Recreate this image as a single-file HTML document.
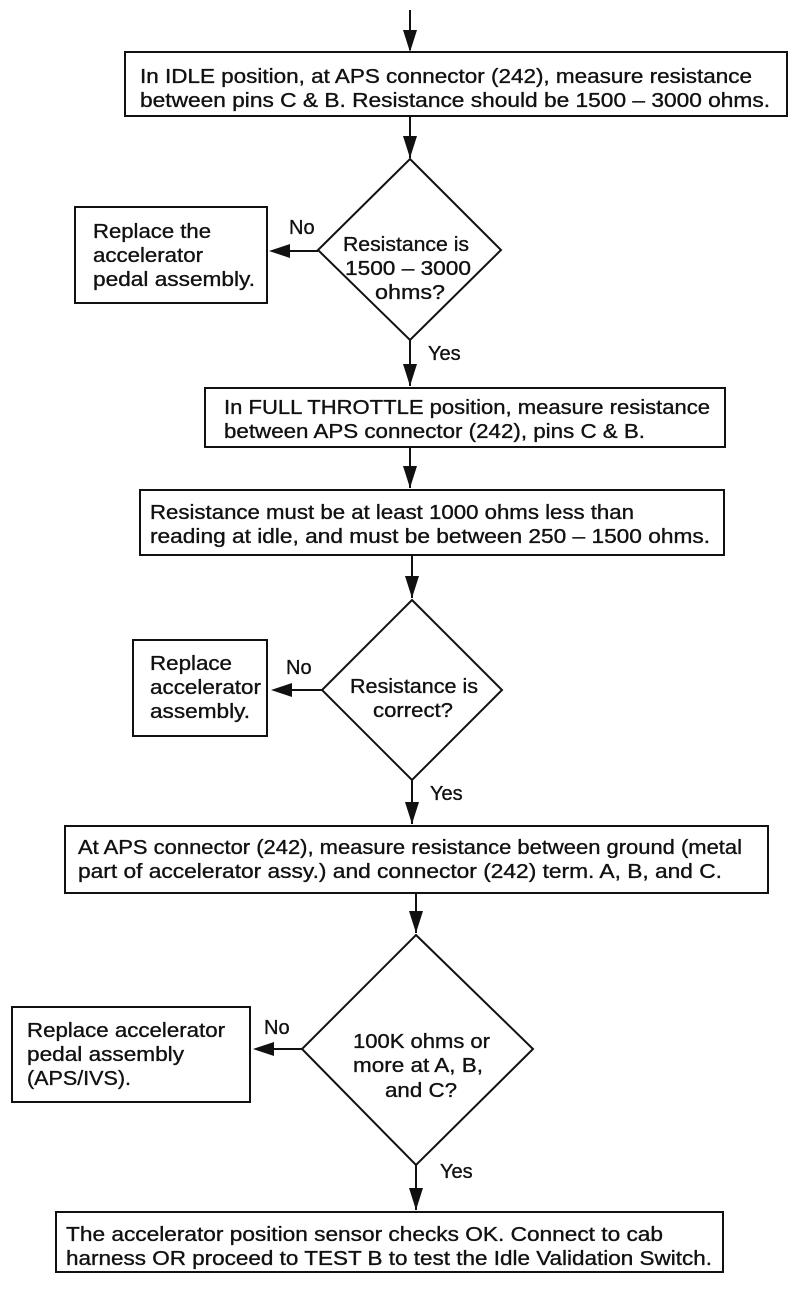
<!DOCTYPE html>
<html><head><meta charset="utf-8"><style>
html,body{margin:0;padding:0;background:#fff}
svg{display:block}
text{font-family:"Liberation Sans",Arial,sans-serif;font-size:20px;fill:#111;stroke:#111;stroke-width:0.35px}
</style></head><body>
<svg width="800" height="1296" viewBox="0 0 800 1296" xmlns="http://www.w3.org/2000/svg">
<g stroke="#111" stroke-width="2" fill="none">
<line x1="410" y1="10" x2="410" y2="50"/>
<path d="M403,30 L417,30 L410,52 Z" fill="#111" stroke="none"/>
<line x1="410" y1="116" x2="410" y2="158"/>
<path d="M403,136 L417,136 L410,158 Z" fill="#111" stroke="none"/>
<rect x="125" y="52" width="662" height="64"/>
<polygon points="410,159 501,250 410,340 318,250"/>
<rect x="75" y="207" width="192" height="96"/>
<line x1="318" y1="251" x2="282" y2="251"/>
<path d="M269,251 L290,244 L290,258 Z" fill="#111" stroke="none"/>
<line x1="410" y1="340" x2="410" y2="386"/>
<path d="M403,364 L417,364 L410,386 Z" fill="#111" stroke="none"/>
<rect x="205" y="388" width="520" height="59"/>
<line x1="410" y1="447" x2="410" y2="488"/>
<path d="M403,466 L417,466 L410,488 Z" fill="#111" stroke="none"/>
<rect x="140" y="490" width="584" height="65"/>
<line x1="412" y1="555" x2="412" y2="598"/>
<path d="M405,576 L419,576 L412,598 Z" fill="#111" stroke="none"/>
<polygon points="412,600 502,690 412,780 322,690"/>
<rect x="133" y="640" width="134" height="96"/>
<line x1="322" y1="690" x2="284" y2="690"/>
<path d="M271,690 L292,683 L292,697 Z" fill="#111" stroke="none"/>
<line x1="412" y1="780" x2="412" y2="824"/>
<path d="M405,802 L419,802 L412,824 Z" fill="#111" stroke="none"/>
<rect x="65" y="826" width="703" height="67"/>
<line x1="416" y1="893" x2="416" y2="933"/>
<path d="M409,911 L423,911 L416,933 Z" fill="#111" stroke="none"/>
<polygon points="416,935 533,1049 416,1165 302,1049"/>
<rect x="12" y="1007" width="238" height="95"/>
<line x1="302" y1="1049" x2="266" y2="1049"/>
<path d="M253,1049 L274,1042 L274,1056 Z" fill="#111" stroke="none"/>
<line x1="416" y1="1165" x2="416" y2="1210"/>
<path d="M409,1188 L423,1188 L416,1210 Z" fill="#111" stroke="none"/>
<rect x="56" y="1212" width="667" height="60"/>
</g>
<text x="140" y="83" textLength="612" lengthAdjust="spacingAndGlyphs">In IDLE position, at APS connector (242), measure resistance</text>
<text x="140" y="107" textLength="630" lengthAdjust="spacingAndGlyphs">between pins C &amp; B. Resistance should be 1500 – 3000 ohms.</text>
<text x="93" y="238" textLength="118" lengthAdjust="spacingAndGlyphs">Replace the</text>
<text x="93" y="262" textLength="110" lengthAdjust="spacingAndGlyphs">accelerator</text>
<text x="93" y="286" textLength="162" lengthAdjust="spacingAndGlyphs">pedal assembly.</text>
<text x="289" y="234">No</text>
<text x="343" y="251" textLength="126" lengthAdjust="spacingAndGlyphs">Resistance is</text>
<text x="345" y="275" textLength="126" lengthAdjust="spacingAndGlyphs">1500 – 3000</text>
<text x="375" y="299" textLength="70" lengthAdjust="spacingAndGlyphs">ohms?</text>
<text x="428" y="360">Yes</text>
<text x="224" y="414" textLength="486" lengthAdjust="spacingAndGlyphs">In FULL THROTTLE position, measure resistance</text>
<text x="224" y="438" textLength="421" lengthAdjust="spacingAndGlyphs">between APS connector (242), pins C &amp; B.</text>
<text x="150" y="519" textLength="484" lengthAdjust="spacingAndGlyphs">Resistance must be at least 1000 ohms less than</text>
<text x="150" y="543" textLength="560" lengthAdjust="spacingAndGlyphs">reading at idle, and must be between 250 – 1500 ohms.</text>
<text x="150" y="670" textLength="82" lengthAdjust="spacingAndGlyphs">Replace</text>
<text x="150" y="694" textLength="111" lengthAdjust="spacingAndGlyphs">accelerator</text>
<text x="150" y="718" textLength="100" lengthAdjust="spacingAndGlyphs">assembly.</text>
<text x="286" y="674">No</text>
<text x="350" y="693" textLength="128" lengthAdjust="spacingAndGlyphs">Resistance is</text>
<text x="373" y="717" textLength="80" lengthAdjust="spacingAndGlyphs">correct?</text>
<text x="430" y="800">Yes</text>
<text x="78" y="854" textLength="664" lengthAdjust="spacingAndGlyphs">At APS connector (242), measure resistance between ground (metal</text>
<text x="78" y="878" textLength="644" lengthAdjust="spacingAndGlyphs">part of accelerator assy.) and connector (242) term. A, B, and C.</text>
<text x="27" y="1037" textLength="198" lengthAdjust="spacingAndGlyphs">Replace accelerator</text>
<text x="27" y="1061" textLength="157" lengthAdjust="spacingAndGlyphs">pedal assembly</text>
<text x="27" y="1085" textLength="104" lengthAdjust="spacingAndGlyphs">(APS/IVS).</text>
<text x="264" y="1034">No</text>
<text x="353" y="1048" textLength="137" lengthAdjust="spacingAndGlyphs">100K ohms or</text>
<text x="353" y="1072" textLength="130" lengthAdjust="spacingAndGlyphs">more at A, B,</text>
<text x="385" y="1097" textLength="72" lengthAdjust="spacingAndGlyphs">and C?</text>
<text x="440" y="1178">Yes</text>
<text x="66" y="1241" textLength="597" lengthAdjust="spacingAndGlyphs">The accelerator position sensor checks OK. Connect to cab</text>
<text x="66" y="1265" textLength="646" lengthAdjust="spacingAndGlyphs">harness OR proceed to TEST B to test the Idle Validation Switch.</text>
</svg>
</body></html>
